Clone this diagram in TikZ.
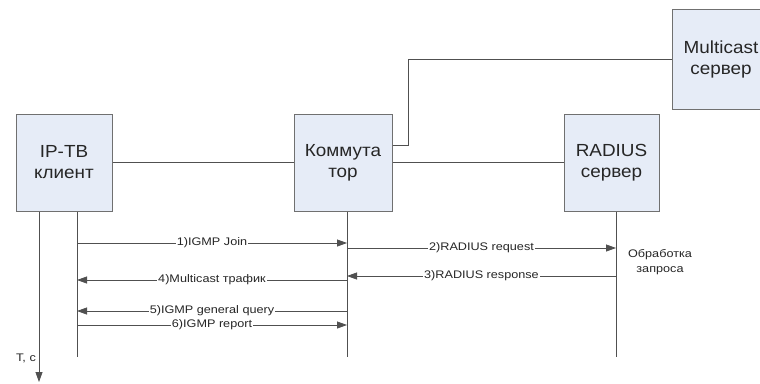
\documentclass[tikz,border=0pt]{standalone}
\usepackage{fontspec}
\setmainfont{Liberation Sans}
\newfontfamily\boxfont[FakeStretch=1.08]{Liberation Sans}
\newfontfamily\lblfont[FakeStretch=1.15]{Liberation Sans}
\usetikzlibrary{arrows.meta, positioning, calc}
\definecolor{boxfill}{HTML}{E6ECF7}
\definecolor{boxline}{HTML}{707070}
\definecolor{wire}{HTML}{505050}

\begin{document}
\begin{tikzpicture}[
    x=1pt, y=-1pt,
    every node/.style={text=black!85},
    unit/.style={draw=boxline, fill=boxfill, line width=1pt, align=center, inner sep=0pt,
        font=\boxfont\fontsize{17.5}{21}\selectfont},
    link/.style={draw=wire, line width=0.8pt},
    msg/.style={link, -{Triangle[length=10pt, width=7pt]}},
    lbl/.style={fill=white, inner sep=1pt, font=\lblfont\fontsize{11}{15}\selectfont}
]
\path[use as bounding box, clip] (0,0) rectangle (760,383);

% Участники
\node[unit, minimum width=96pt, minimum height=97pt] (cl) at (64,162.5) {IP-ТВ\\клиент};
\node[unit, minimum width=98pt, minimum height=97pt] (sw) at (343,162.5) {Коммута\\тор};
\node[unit, minimum width=95pt, minimum height=97pt] (rad) at (611.5,162.5) {RADIUS\\сервер};
\node[unit, minimum width=98pt, minimum height=100pt] (mc) at (721,59) {Multicast\\сервер};

% Соединения
\draw[link] (cl) -- (sw);
\draw[link] (sw) -- (rad);
\coordinate (bend) at (408,59);
\draw[link] (sw.east |- 0,145) -| (bend) -- (mc.west);

% Линии жизни
\coordinate (lcl) at (77,357);
\coordinate (lsw) at (347,357);
\coordinate (lrad) at (616,357);
\coordinate (tend) at (39,382);
\draw[link] (cl.south -| lcl) -- (lcl);
\draw[link] (sw.south -| lsw) -- (lsw);
\draw[link] (rad.south -| lrad) -- (lrad);
\draw[msg] (cl.south -| tend) -- (tend);
\node[lbl, fill=none] (taxis) at (26,358) {Т, с};

% Сообщения
\draw[msg] (lcl |- 0,243) -- node[lbl]{1)IGMP Join} (lsw |- 0,243);
\draw[msg] (lsw |- 0,248) -- node[lbl]{2)RADIUS request} (lrad |- 0,248);
\draw[msg] (lrad |- 0,276) -- node[lbl]{3)RADIUS response} (lsw |- 0,276);
\draw[msg] (lsw |- 0,280) -- node[lbl]{4)Multicast трафик} (lcl |- 0,280);
\draw[msg] (lsw |- 0,311) -- node[lbl]{5)IGMP general query} (lcl |- 0,311);
\draw[msg] (lcl |- 0,325) -- node[lbl]{6)IGMP report} (lsw |- 0,325);

\node[lbl, fill=none, align=center] (proc) at (660,262) {Обработка\\запроса};

\end{tikzpicture}
\end{document}
